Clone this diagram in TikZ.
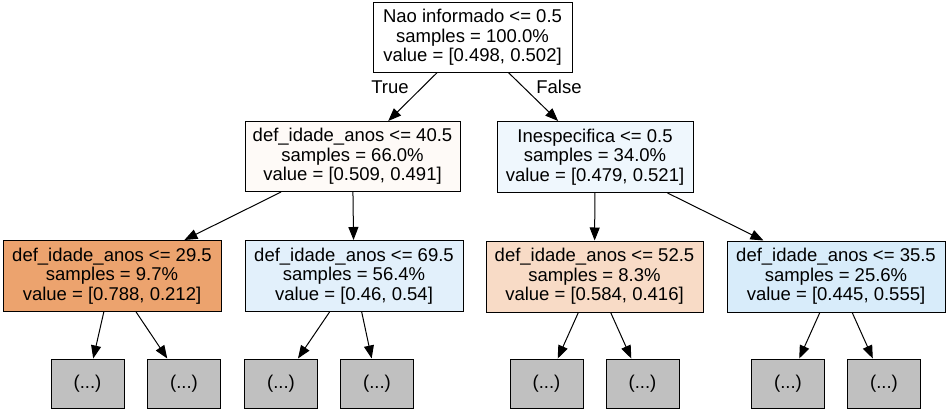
\documentclass[tikz,border=0pt]{standalone}
\usepackage{fontspec}
\setmainfont{Liberation Sans}
\usetikzlibrary{arrows.meta}
\definecolor{cOrA}{HTML}{ECA36E}
\definecolor{cOrB}{HTML}{F8DBC6}
\definecolor{cWh}{HTML}{FEFAF7}
\definecolor{cBlA}{HTML}{EFF7FD}
\definecolor{cBlB}{HTML}{E2F0FB}
\definecolor{cBlC}{HTML}{D8ECFA}
\definecolor{cGr}{HTML}{C0C0C0}
\tikzset{
  tnode/.style={draw=black, line width=1pt, align=center, inner sep=0pt,
    font=\fontsize{18.5}{19.7}\selectfont, minimum height=70pt},
  leaf/.style={draw=black, line width=1pt, fill=cGr, inner sep=0pt,
    minimum width=73pt, minimum height=49pt, font=\fontsize{18.5}{19.7}\selectfont},
  edge/.style={line width=1pt, -{Triangle[length=13pt,width=10pt]}},
  elabel/.style={font=\fontsize{18.5}{19.7}\selectfont}
}
\begin{document}
\begin{tikzpicture}[x=1pt,y=-1pt]
\useasboundingbox (0,0) rectangle (949,412);
\node[tnode, fill=white, minimum width=199pt, minimum height=69pt] (root) at (472.5,37.5)
  {Nao informado <= 0.5\\samples = 100.0\%\\value = [0.498, 0.502]};
\node[tnode, fill=cWh, minimum width=215pt] (l) at (352.5,156.5)
  {def\_idade\_anos <= 40.5\\samples = 66.0\%\\value = [0.509, 0.491]};
\node[tnode, fill=cBlA, minimum width=196pt, minimum height=71pt] (r) at (595,157)
  {Inespecifica <= 0.5\\samples = 34.0\%\\value = [0.479, 0.521]};
\node[tnode, fill=cOrA, minimum width=218pt, minimum height=71pt] (b1) at (112,276)
  {def\_idade\_anos <= 29.5\\samples = 9.7\%\\value = [0.788, 0.212]};
\node[tnode, fill=cBlB, minimum width=218pt, minimum height=71pt] (b2) at (354,276)
  {def\_idade\_anos <= 69.5\\samples = 56.4\%\\value = [0.46, 0.54]};
\node[tnode, fill=cOrB, minimum width=217pt, minimum height=71pt] (b3) at (594.5,276.5)
  {def\_idade\_anos <= 52.5\\samples = 8.3\%\\value = [0.584, 0.416]};
\node[tnode, fill=cBlC, minimum width=218pt, minimum height=71pt] (b4) at (836,276.5)
  {def\_idade\_anos <= 35.5\\samples = 25.6\%\\value = [0.445, 0.555]};
\node[leaf] (f1) at (87.5,383.5) {(...)};
\node[leaf] (f2) at (184,383.5) {(...)};
\node[leaf] (f3) at (281,383.5) {(...)};
\node[leaf] (f4) at (377,383.5) {(...)};
\node[leaf] (f5) at (546.5,383.5) {(...)};
\node[leaf] (f6) at (642.5,383.5) {(...)};
\node[leaf] (f7) at (788,383.5) {(...)};
\node[leaf] (f8) at (884,383.5) {(...)};
\draw[edge] (root) -- (l);
\draw[edge] (root) -- (r);
\draw[edge] (l) -- (b1);
\draw[edge] (l) -- (b2);
\draw[edge] (r) -- (b3);
\draw[edge] (r) -- (b4);
\draw[edge] (b1) -- (f1);
\draw[edge] (b1) -- (f2);
\draw[edge] (b2) -- (f3);
\draw[edge] (b2) -- (f4);
\draw[edge] (b3) -- (f5);
\draw[edge] (b3) -- (f6);
\draw[edge] (b4) -- (f7);
\draw[edge] (b4) -- (f8);
\node[elabel] (tl) at (390,87) {True};
\node[elabel] (fl) at (559,87) {False};
\end{tikzpicture}
\end{document}
